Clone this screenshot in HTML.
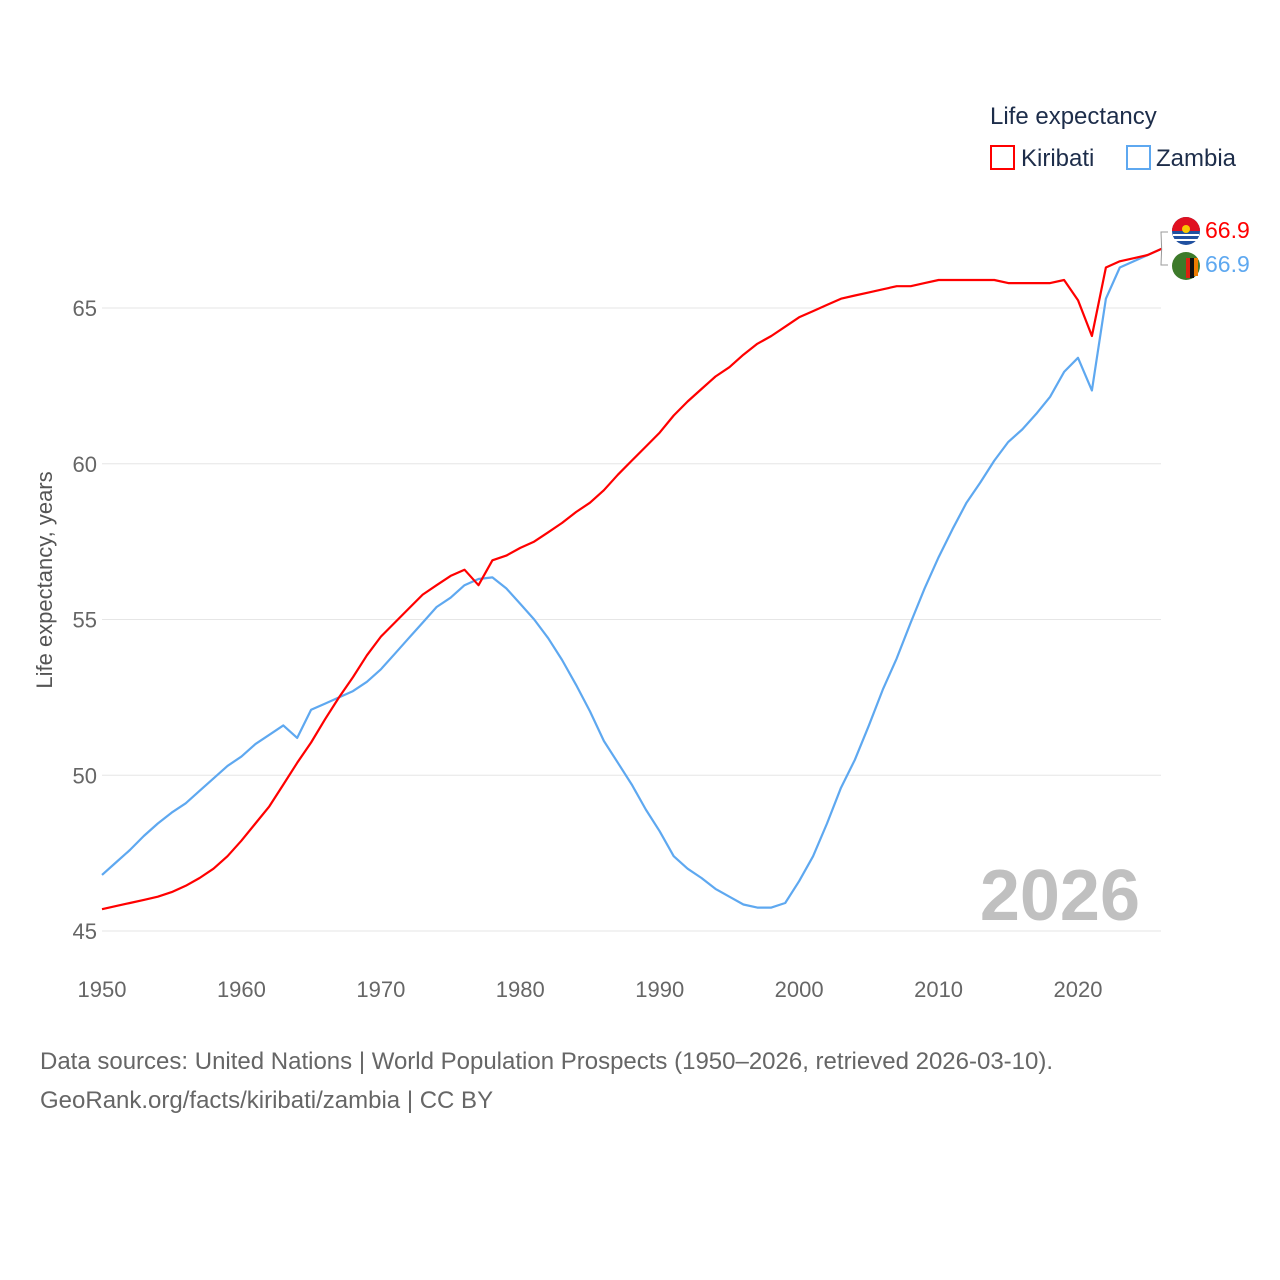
<!DOCTYPE html>
<html><head><meta charset="utf-8"><style>
body{margin:0;background:#fff;font-family:"Liberation Sans",sans-serif}
svg{display:block}
</style></head><body>
<svg id="chart" width="1280" height="1280">
<text x="990" y="124" font-size="24" fill="#1d2d4a">Life expectancy</text>
<g><rect x="991" y="146" width="23" height="23" fill="none" stroke="#ff0000" stroke-width="2"/><text x="1021" y="166" font-size="24" fill="#1d2d4a">Kiribati</text></g>
<g><rect x="1127" y="146" width="23" height="23" fill="none" stroke="#5ea8f0" stroke-width="2"/><text x="1156" y="166" font-size="24" fill="#1d2d4a">Zambia</text></g>
<text x="1140" y="920" font-size="72" font-weight="bold" fill="#c0c0c0" text-anchor="end">2026</text>
<text transform="translate(52,580) rotate(-90)" font-size="22" fill="#555" text-anchor="middle">Life expectancy, years</text>
<text x="40" y="1069" font-size="24" fill="#666">Data sources: United Nations | World Population Prospects (1950–2026, retrieved 2026-03-10).</text>
<text x="40" y="1108" font-size="24" fill="#666">GeoRank.org/facts/kiribati/zambia | CC BY</text>
<g id="grid"></g><g id="lines"></g><g id="ends"></g>
</svg>
<script>
const years=[];for(let y=1950;y<=2026;y++)years.push(y);
const kiribati=[45.7,45.8,45.9,46.0,46.1,46.25,46.45,46.7,47.0,47.4,47.9,48.45,49.0,49.7,50.4,51.05,51.8,52.5,53.15,53.85,54.45,54.9,55.35,55.8,56.1,56.4,56.6,56.1,56.9,57.05,57.3,57.5,57.8,58.1,58.45,58.75,59.15,59.65,60.1,60.55,61.0,61.55,62.0,62.4,62.8,63.1,63.5,63.85,64.1,64.4,64.7,64.9,65.1,65.3,65.4,65.5,65.6,65.7,65.7,65.8,65.9,65.9,65.9,65.9,65.9,65.8,65.8,65.8,65.8,65.9,65.25,64.1,66.3,66.5,66.6,66.7,66.9];
const zambia=[46.8,47.2,47.6,48.05,48.45,48.8,49.1,49.5,49.9,50.3,50.6,51.0,51.3,51.6,51.2,52.1,52.3,52.5,52.7,53.0,53.4,53.9,54.4,54.9,55.4,55.7,56.1,56.3,56.35,56.0,55.5,55.0,54.4,53.7,52.9,52.05,51.1,50.4,49.7,48.9,48.2,47.4,47.0,46.7,46.35,46.1,45.85,45.75,45.75,45.9,46.6,47.4,48.45,49.6,50.5,51.6,52.75,53.75,54.9,56.0,57.0,57.9,58.75,59.4,60.1,60.7,61.1,61.6,62.15,62.95,63.4,62.35,65.3,66.3,66.5,66.7,66.9];
const yTicks=[45,50,55,60,65];
const xTicks=[1950,1960,1970,1980,1990,2000,2010,2020];
const X=y=>102+(y-1950)*976/70;
const Y=v=>931-(v-45)*31.15;
const NS="http://www.w3.org/2000/svg";
function mk(t,a,p){const e=document.createElementNS(NS,t);for(const k in a)e.setAttribute(k,a[k]);p.appendChild(e);return e;}
const grid=document.getElementById('grid');
yTicks.forEach(v=>{
 const l=mk('line',{x1:102,x2:1161,y1:Y(v),y2:Y(v),stroke:'#e6e6e6','stroke-width':1},grid);
 
 
 const t=mk('text',{x:97,y:Y(v)+8,'font-size':22,fill:'#666','text-anchor':'end'},grid);t.textContent=v;
 
 
});
xTicks.forEach(v=>{
 const t=mk('text',{x:X(v),y:997,'font-size':22,fill:'#666','text-anchor':'middle'},grid);t.textContent=v;
 
 
});
const lines=document.getElementById('lines');
function series(d,c,n){
 const p=mk('path',{d:d.map((v,i)=>(i?'L':'M')+X(years[i]).toFixed(1)+','+Y(v).toFixed(1)).join(''),fill:'none',stroke:c,'stroke-width':2.2,'stroke-linejoin':'round'},lines);
 
 
}
series(zambia,'#5ea8f0','zambia-line');
series(kiribati,'#ff0000','kiribati-line');
const ends=document.getElementById('ends');
const ex=X(2026);
mk('path',{d:`M${ex},${Y(kiribati[76])} L1161,232 L1168,232 M${ex},${Y(zambia[76])} L1161,265 L1168,265`,stroke:'#999',fill:'none','stroke-width':1},ends);
const f1=mk('g',{},ends);
mk('circle',{cx:1186,cy:231,r:14,fill:'#2050a0'},f1);
mk('path',{d:'M1172,231 A14,14 0 0 1 1200,231 Z',fill:'#e01020'},f1);
mk('circle',{cx:1186,cy:229,r:4,fill:'#f8c800'},f1);
mk('path',{d:'M1173,235 h26 M1174,240 h24',stroke:'#fff','stroke-width':2},f1);
const f2=mk('g',{},ends);
mk('circle',{cx:1186,cy:266,r:14,fill:'#3d7a2a'},f2);
mk('rect',{x:1186,y:258,width:4,height:20,fill:'#de2010'},f2);
mk('rect',{x:1190,y:258,width:4,height:20,fill:'#111'},f2);
mk('rect',{x:1194,y:258,width:4,height:18,fill:'#ef7d00'},f2);
const t1=mk('text',{x:1205,y:238,'font-size':23,fill:'#ff0000'},ends);t1.textContent=kiribati[76].toFixed(1);


const t2=mk('text',{x:1205,y:272,'font-size':23,fill:'#5ea8f0'},ends);t2.textContent=zambia[76].toFixed(1);


</script>
</body></html>
